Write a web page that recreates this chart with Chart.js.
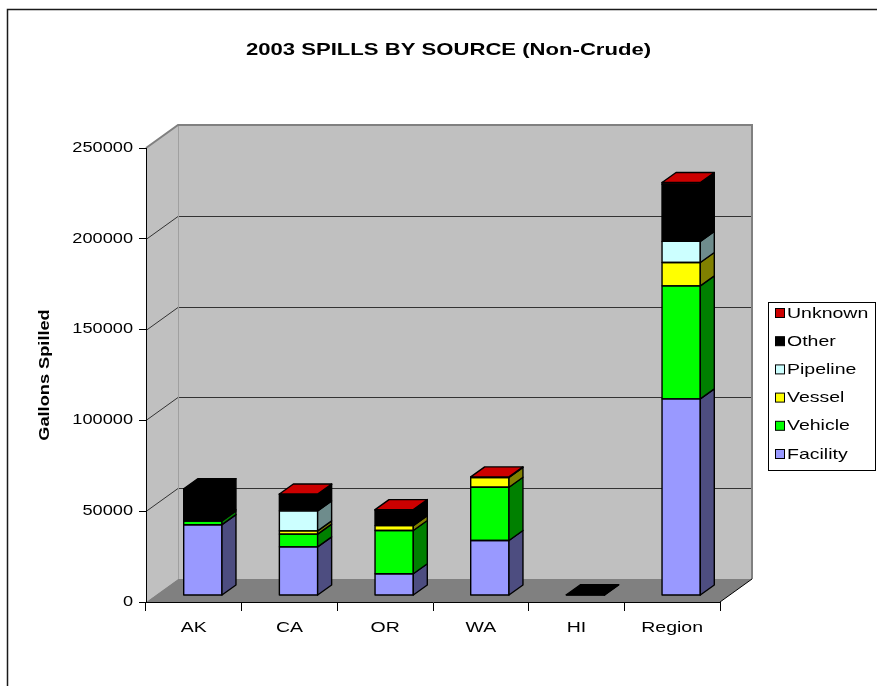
<!DOCTYPE html>
<html>
<head>
<meta charset="utf-8">
<script src="https://cdn.jsdelivr.net/npm/chart.js@4/dist/chart.umd.min.js"></script>
<style>
  html, body { margin: 0; padding: 0; background: #fff; }
  canvas { display: block; }
</style>
</head>
<body>
<canvas id="c" width="877" height="686"></canvas>
<script>
// Gallons spilled per source, by state
const categories  = ['AK', 'CA', 'OR', 'WA', 'HI', 'Region'];
const facility    = [39000, 26800, 12000, 30300, 0, 108300];
const vehicle     = [2000, 7000, 23800, 29300, 0, 62200];
const vessel      = [800, 1800, 2700, 5400, 0, 12900];
const pipeline    = [0, 11000, 0, 0, 0, 11600];
const other       = [17000, 9000, 8500, 0, 400, 31500];
const unknown     = [0, 300, 300, 300, 0, 900];
const seriesNames = ['Facility', 'Vehicle', 'Vessel', 'Pipeline', 'Other', 'Unknown'];
const yTickValues = [0, 50000, 100000, 150000, 200000, 250000];

const seriesValues = [facility, vehicle, vessel, pipeline, other, unknown];

// colours: front faces and shaded right-hand faces
const palette = {
  front: ['#9999FF', '#00FF00', '#FFFF00', '#CCFFFF', '#000000', '#CC0000'],
  side:  ['#4D4D80', '#008000', '#808000', '#6E8C8C', '#000000', '#660000']
};

// perspective offsets for the pseudo-3D look
const DEPTH = { wallX: 32, wallY: -23, frontX: 9, frontY: -6.5, barX: 14, barY: -10 };
const TEXT_STRETCH = 1.3;
const FONT = 'Arial, "Liberation Sans", sans-serif';

function poly(ctx, pts) {
  ctx.beginPath();
  ctx.moveTo(pts[0][0], pts[0][1]);
  for (let i = 1; i < pts.length; i++) ctx.lineTo(pts[i][0], pts[i][1]);
  ctx.closePath();
}

// wide lettering: every label is drawn horizontally stretched
const wideText = {
  id: 'wideText',
  beforeDraw(chart) {
    const ctx = chart.ctx;
    if (ctx.__wide) return;
    ctx.__wide = true;
    const nativeFill = CanvasRenderingContext2D.prototype.fillText;
    ctx.fillText = function (text, x, y) {
      this.save();
      this.translate(x, y);
      this.scale(TEXT_STRETCH, 1);
      nativeFill.call(this, text, 0, 0);
      this.restore();
    };
  }
};

// outer frame, back wall, side wall, floor and wall gridlines
const walls = {
  id: 'walls',
  beforeDraw(chart) {
    const { ctx, chartArea: a, scales: { y } } = chart;
    const dx = DEPTH.wallX, dy = DEPTH.wallY;
    ctx.save();
    ctx.strokeStyle = '#1a1a1a';
    ctx.lineWidth = 1.5;
    ctx.beginPath();
    ctx.moveTo(7.5, chart.height + 2);
    ctx.lineTo(7.5, 9.5);
    ctx.lineTo(chart.width + 2, 9.5);
    ctx.stroke();

    ctx.fillStyle = '#c0c0c0';
    ctx.fillRect(a.left + dx, a.top + dy, a.right - a.left, a.bottom - a.top);
    poly(ctx, [[a.left, a.top], [a.left + dx, a.top + dy], [a.left + dx, a.bottom + dy], [a.left, a.bottom]]);
    ctx.fill();

    ctx.fillStyle = '#808080';
    poly(ctx, [[a.left, a.bottom], [a.right, a.bottom], [a.right + dx, a.bottom + dy], [a.left + dx, a.bottom + dy]]);
    ctx.fill();

    ctx.lineWidth = 1;
    ctx.strokeStyle = '#333';
    y.ticks.forEach(t => {
      if (t.value === 0 || t.value === y.max) return;
      const py = Math.round(y.getPixelForValue(t.value)) + 0.5;
      ctx.beginPath();
      ctx.moveTo(a.left, py);
      ctx.lineTo(a.left + dx, py + dy);
      ctx.lineTo(a.right + dx, py + dy);
      ctx.stroke();
    });

    ctx.strokeStyle = '#a0a0a0';
    ctx.beginPath();
    ctx.moveTo(a.left + dx + 0.5, a.top + dy);
    ctx.lineTo(a.left + dx + 0.5, a.bottom + dy);
    ctx.stroke();

    ctx.strokeStyle = '#808080';
    ctx.lineWidth = 2;
    ctx.beginPath();
    ctx.moveTo(a.left, a.top);
    ctx.lineTo(a.left + dx, a.top + dy);
    ctx.lineTo(a.right + dx, a.top + dy);
    ctx.lineTo(a.right + dx, a.bottom + dy);
    ctx.stroke();

    ctx.strokeStyle = '#000';
    ctx.lineWidth = 1;
    ctx.beginPath();
    ctx.moveTo(a.right, a.bottom);
    ctx.lineTo(a.right + dx, a.bottom + dy);
    ctx.stroke();
    ctx.restore();
  }
};

// bars are pushed into the box, then outlined and given right-hand and top faces
const bars3d = {
  id: 'bars3d',
  beforeDatasetsDraw(chart) {
    chart.ctx.save();
    chart.ctx.translate(DEPTH.frontX, DEPTH.frontY);
  },
  afterDatasetsDraw(chart) {
    const ctx = chart.ctx;
    ctx.restore();
    const fx = DEPTH.frontX, fy = DEPTH.frontY, bx = DEPTH.barX, by = DEPTH.barY;
    ctx.save();
    ctx.lineWidth = 1.4;
    ctx.strokeStyle = '#000';
    ctx.lineJoin = 'round';
    const n = chart.data.labels.length;
    for (let i = 0; i < n; i++) {
      let topEl = null, topIdx = -1;
      chart.data.datasets.forEach((ds, d) => {
        const el = chart.getDatasetMeta(d).data[i];
        if (!el || !ds.data[i]) return;
        const l = el.x - el.width / 2 + fx;
        const r = el.x + el.width / 2 + fx;
        const t = Math.min(el.y, el.base) + fy;
        const b = Math.max(el.y, el.base) + fy;
        ctx.strokeRect(l, t, r - l, b - t);
        ctx.fillStyle = palette.side[d];
        poly(ctx, [[r, t], [r + bx, t + by], [r + bx, b + by], [r, b]]);
        ctx.fill();
        ctx.stroke();
        topEl = el;
        topIdx = d;
      });
      if (topEl) {
        const l = topEl.x - topEl.width / 2 + fx;
        const r = topEl.x + topEl.width / 2 + fx;
        const t = Math.min(topEl.y, topEl.base) + fy;
        ctx.fillStyle = palette.front[topIdx];
        poly(ctx, [[l, t], [l + bx, t + by], [r + bx, t + by], [r, t]]);
        ctx.fill();
        ctx.stroke();
      }
    }
    ctx.restore();
  }
};

// boxed legend, top series first
const boxLegend = {
  id: 'boxLegend',
  afterDraw(chart) {
    const ctx = chart.ctx;
    ctx.save();
    ctx.strokeStyle = '#000';
    ctx.lineWidth = 1;
    ctx.strokeRect(768.5, 302.5, 107, 168);
    ctx.font = '15px ' + FONT;
    ctx.textAlign = 'left';
    ctx.textBaseline = 'middle';
    const ds = chart.data.datasets;
    for (let k = 0; k < ds.length; k++) {
      const d = ds.length - 1 - k;
      const cy = 313.5 + k * 28.2;
      ctx.fillStyle = palette.front[d];
      ctx.fillRect(775.5, cy - 5, 9, 9);
      ctx.strokeRect(775.5, cy - 5, 9, 9);
      ctx.fillStyle = '#000';
      ctx.fillText(ds[d].label, 787, cy);
    }
    ctx.restore();
  }
};

Chart.defaults.font.family = FONT;
Chart.defaults.color = '#000';

new Chart(document.getElementById('c'), {
  type: 'bar',
  data: {
    labels: categories,
    datasets: seriesNames.map((name, i) => ({
      label: name,
      data: seriesValues[i],
      backgroundColor: palette.front[i],
      borderWidth: 0,
      barPercentage: 0.4,
      categoryPercentage: 1,
      clip: false
    }))
  },
  options: {
    responsive: false,
    devicePixelRatio: 1,
    animation: false,
    layout: { padding: { left: 20, top: 0, right: 0, bottom: 0 } },
    plugins: {
      legend: { display: false },
      tooltip: { enabled: false },
      title: {
        display: true,
        text: '2003 SPILLS BY SOURCE (Non-Crude)',
        color: '#000',
        font: { size: 17, weight: 'bold' },
        padding: { top: 40, bottom: 87.6 }
      }
    },
    scales: {
      x: {
        stacked: true,
        offset: true,
        grid: { offset: true, drawOnChartArea: false, color: '#000', tickLength: 9 },
        border: { display: true, color: '#000', width: 1 },
        ticks: { font: { size: 15 }, color: '#000', padding: 8, autoSkip: false, maxRotation: 0 },
        afterFit: s => { s.height = 84; }
      },
      y: {
        stacked: true,
        min: 0,
        max: 250000,
        afterBuildTicks: s => { s.ticks = yTickValues.map(v => ({ value: v })); },
        grid: { drawOnChartArea: false, color: '#000', tickLength: 7 },
        border: { display: true, color: '#000', width: 1 },
        ticks: { font: { size: 14 }, color: '#000', padding: 6, callback: v => String(v) },
        title: {
          display: true,
          text: 'Gallons Spilled',
          color: '#000',
          font: { size: 14, weight: 'bold' },
          padding: { top: 16.6, bottom: 0 }
        },
        afterFit: s => { s.width = 126; }
      },
      side: {
        type: 'linear',
        position: 'right',
        display: true,
        grid: { display: false },
        border: { display: false },
        ticks: { display: false },
        afterFit: s => { s.width = 157; }
      }
    }
  },
  plugins: [wideText, walls, bars3d, boxLegend]
});
</script>
</body>
</html>
